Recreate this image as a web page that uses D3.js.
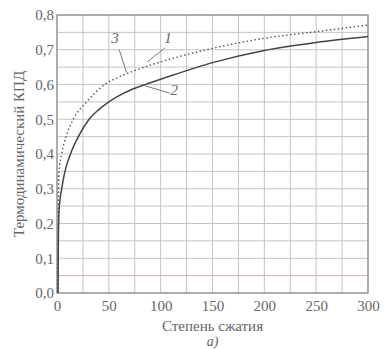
<!DOCTYPE html>
<html>
<head>
<meta charset="utf-8">
<script src="https://cdn.jsdelivr.net/npm/d3@7"></script>
<style>
  body { margin: 0; background: #fff; }
  svg text { font-family: "Liberation Serif", "DejaVu Serif", serif; fill: #666; }
</style>
</head>
<body>
<div id="chart"></div>
<script>
// compression ratio (x) and thermal efficiency values
const ratio1 = [1, 1.2, 1.5, 2, 4.5, 8.7, 15.7, 28.6, 46, 60, 75, 100, 150, 200, 250, 300];
const curve1 = [0, 0.15, 0.3, 0.35, 0.4, 0.45, 0.5, 0.55, 0.6, 0.622, 0.64, 0.665, 0.704, 0.733, 0.752, 0.771];
const ratio2 = [1, 1.3, 1.6, 2.3, 4.5, 7.7, 13, 20.6, 31, 40, 49, 65, 86, 100, 150, 200, 250, 300];
const curve2 = [0, 0.15, 0.2, 0.25, 0.3, 0.35, 0.4, 0.45, 0.5, 0.527, 0.548, 0.576, 0.601, 0.615, 0.663, 0.698, 0.721, 0.738];
const xTicks = [0, 50, 100, 150, 200, 250, 300];
const yTicks = [0, 0.1, 0.2, 0.3, 0.4, 0.5, 0.6, 0.7, 0.8];

const width = 389, height = 349;
const margin = { top: 15, right: 21, bottom: 56, left: 57 };

const svg = d3.select('#chart')
    .append('svg')
    .attr('width', width)
    .attr('height', height);

const x = d3.scaleLinear().domain([0, 300]).range([margin.left, width - margin.right]);
const y = d3.scaleLinear().domain([0, 0.8]).range([height - margin.bottom, margin.top]);

// grid
svg.append('g')
    .selectAll('line')
    .data(d3.range(0, 301, 25))
    .enter()
    .append('line')
    .attr('x1', (d) => x(d)).attr('x2', (d) => x(d))
    .attr('y1', y(0)).attr('y2', y(0.8))
    .attr('stroke', '#c4c4c8')
    .attr('stroke-width', 1);

svg.append('g')
    .selectAll('line')
    .data(d3.range(0, 17).map((i) => i * 0.05))
    .enter()
    .append('line')
    .attr('x1', x(0)).attr('x2', x(300))
    .attr('y1', (d) => y(d)).attr('y2', (d) => y(d))
    .attr('stroke', (d, i) => (i === 1 ? '#d8a8a8' : '#c4c4c4'))
    .attr('stroke-width', 1);

// frame
svg.append('rect')
    .attr('x', x(0)).attr('y', y(0.8))
    .attr('width', x(300) - x(0)).attr('height', y(0) - y(0.8))
    .attr('fill', 'none')
    .attr('stroke', '#8a8a8a')
    .attr('stroke-width', 1.2);

// axes
const xAxis = svg.append('g')
    .attr('transform', `translate(0,${y(0)})`)
    .call(d3.axisBottom(x).tickValues(xTicks).tickSize(0).tickPadding(7));
const yAxis = svg.append('g')
    .attr('transform', `translate(${x(0)},0)`)
    .call(d3.axisLeft(y).tickValues(yTicks).tickSize(0).tickPadding(3)
        .tickFormat((d) => d3.format('.1f')(d).replace('.', ',')));
[xAxis, yAxis].forEach((g) => {
    g.select('.domain').remove();
    g.selectAll('text').style('font-size', '15px').attr('fill', '#666');
});

// curves
const line = d3.line()
    .x((d) => x(d[0]))
    .y((d) => y(d[1]))
    .curve(d3.curveMonotoneX);

svg.append('path')
    .datum(ratio1.map((r, i) => [r, curve1[i]]))
    .attr('fill', 'none')
    .attr('stroke', '#555')
    .attr('stroke-width', 1.4)
    .attr('stroke-dasharray', '1.5,2.5')
    .attr('d', line);

svg.append('path')
    .datum(ratio2.map((r, i) => [r, curve2[i]]))
    .attr('fill', 'none')
    .attr('stroke', '#444')
    .attr('stroke-width', 1.5)
    .attr('d', line);

// leader lines and curve numbers
const labels = [
    { t: '3', tx: 56, ty: 0.72, lx1: 60, ly1: 0.70, lx2: 67, ly2: 0.635 },
    { t: '1', tx: 107, ty: 0.72, lx1: 104, ly1: 0.705, lx2: 87, ly2: 0.665 },
    { t: '2', tx: 113, ty: 0.57, lx1: 109, ly1: 0.575, lx2: 84, ly2: 0.597 }
];
labels.forEach((l) => {
    svg.append('line')
        .attr('x1', x(l.lx1)).attr('y1', y(l.ly1))
        .attr('x2', x(l.lx2)).attr('y2', y(l.ly2))
        .attr('stroke', '#777')
        .attr('stroke-width', 1);
    svg.append('text')
        .attr('x', x(l.tx)).attr('y', y(l.ty))
        .attr('text-anchor', 'middle')
        .style('font-size', '15px')
        .style('font-style', 'italic')
        .text(l.t);
});

// titles
svg.append('text')
    .attr('x', (x(0) + x(300)) / 2)
    .attr('y', 331)
    .attr('text-anchor', 'middle')
    .style('font-size', '15px')
    .text('Степень сжатия');

svg.append('text')
    .attr('x', (x(0) + x(300)) / 2)
    .attr('y', 346)
    .attr('text-anchor', 'middle')
    .style('font-size', '14px')
    .style('font-style', 'italic')
    .text('а)');

svg.append('text')
    .attr('transform', `translate(24,${(y(0) + y(0.8)) / 2}) rotate(-90)`)
    .attr('text-anchor', 'middle')
    .style('font-size', '15px')
    .text('Термодинамический КПД');
</script>
</body>
</html>
